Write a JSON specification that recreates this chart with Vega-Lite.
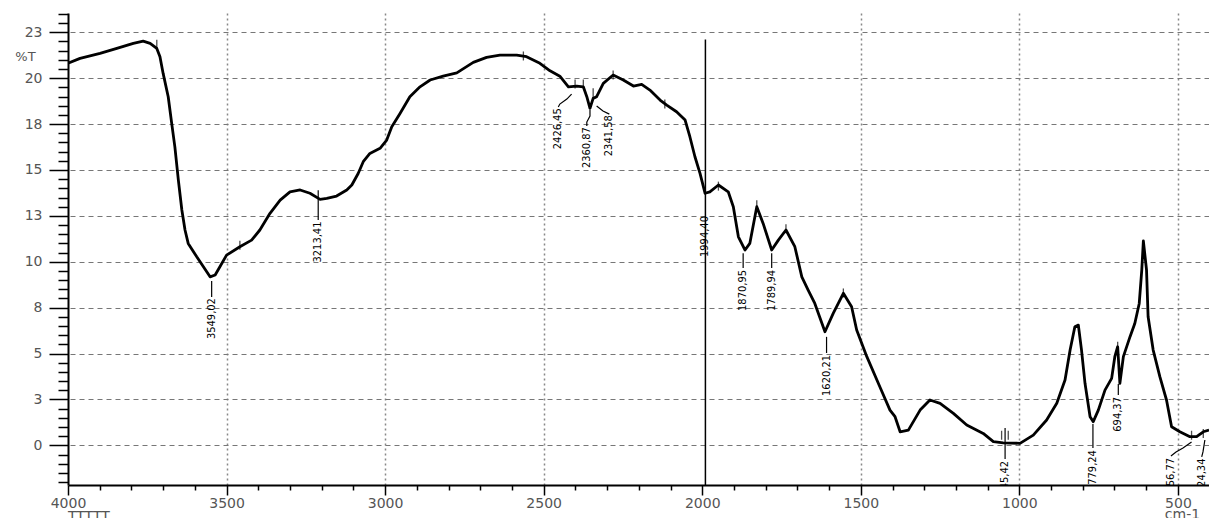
{
  "$schema": "https://vega.github.io/schema/vega-lite/v6.json",
  "width": 1141,
  "height": 472,
  "autosize": {"type": "none"},
  "padding": {"left": 68, "top": 13, "right": 0, "bottom": 33},
  "background": "white",
  "config": {"view": {"stroke": null}},
  "title": {"text": "TTTTT", "orient": "bottom", "anchor": "start", "frame": "group", "offset": -11, "baseline": "top", "font": "DejaVu Sans", "fontSize": 14, "fontWeight": "normal", "color": "#555"},
  "layer": [
    {
      "data": {"values": [{"w": 1990, "t": 22.1, "t2": -2.16}]},
      "mark": {"type": "rule", "color": "black", "strokeWidth": 1.5},
      "encoding": {
        "x": {"field": "w", "type": "quantitative", "scale": {"domain": [402, 4000], "reverse": true, "nice": false, "zero": false}},
        "y": {"field": "t", "type": "quantitative", "scale": {"domain": [-2.16, 23.55], "nice": false, "zero": false}},
        "y2": {"field": "t2"}
      }
    },
    {
      "data": {"values": [
        {"w":4000,"t":20.81},{"w":3962,"t":21.08},{"w":3899,"t":21.35},{"w":3846,"t":21.62},{"w":3794,"t":21.90},{"w":3763,"t":22.02},{"w":3741,"t":21.90},{"w":3720,"t":21.62},{"w":3710,"t":21.17},{"w":3700,"t":20.26},{"w":3684,"t":18.99},{"w":3673,"t":17.54},{"w":3663,"t":16.26},{"w":3652,"t":14.45},{"w":3641,"t":12.82},{"w":3631,"t":11.73},{"w":3621,"t":11.00},{"w":3594,"t":10.27},{"w":3573,"t":9.73},{"w":3552,"t":9.18},{"w":3536,"t":9.28},{"w":3521,"t":9.73},{"w":3500,"t":10.36},{"w":3458,"t":10.82},{"w":3421,"t":11.18},{"w":3395,"t":11.73},{"w":3363,"t":12.64},{"w":3331,"t":13.36},{"w":3300,"t":13.81},{"w":3268,"t":13.91},{"w":3237,"t":13.73},{"w":3205,"t":13.40},{"w":3184,"t":13.45},{"w":3153,"t":13.58},{"w":3121,"t":13.91},{"w":3105,"t":14.18},{"w":3085,"t":14.81},{"w":3069,"t":15.45},{"w":3048,"t":15.90},{"w":3016,"t":16.18},{"w":2995,"t":16.63},{"w":2979,"t":17.35},{"w":2953,"t":18.08},{"w":2922,"t":18.99},{"w":2890,"t":19.53},{"w":2858,"t":19.90},{"w":2817,"t":20.11},{"w":2774,"t":20.29},{"w":2722,"t":20.86},{"w":2680,"t":21.13},{"w":2638,"t":21.26},{"w":2585,"t":21.26},{"w":2554,"t":21.17},{"w":2512,"t":20.81},{"w":2480,"t":20.40},{"w":2449,"t":20.11},{"w":2422,"t":19.53},{"w":2396,"t":19.57},{"w":2375,"t":19.53},{"w":2364,"t":18.99},{"w":2354,"t":18.36},{"w":2344,"t":18.90},{"w":2333,"t":18.99},{"w":2312,"t":19.72},{"w":2281,"t":20.17},{"w":2249,"t":19.90},{"w":2217,"t":19.57},{"w":2191,"t":19.66},{"w":2165,"t":19.35},{"w":2133,"t":18.81},{"w":2112,"t":18.53},{"w":2081,"t":18.17},{"w":2054,"t":17.72},{"w":2039,"t":16.81},{"w":2023,"t":15.72},{"w":2007,"t":14.81},{"w":1991,"t":13.73},{"w":1976,"t":13.81},{"w":1949,"t":14.18},{"w":1918,"t":13.81},{"w":1902,"t":13.0},{"w":1886,"t":11.36},{"w":1865,"t":10.64},{"w":1850,"t":11.0},{"w":1828,"t":13.0},{"w":1808,"t":12.09},{"w":1781,"t":10.64},{"w":1760,"t":11.18},{"w":1736,"t":11.73},{"w":1708,"t":10.82},{"w":1686,"t":9.18},{"w":1666,"t":8.46},{"w":1645,"t":7.73},{"w":1613,"t":6.19},{"w":1587,"t":7.19},{"w":1555,"t":8.28},{"w":1529,"t":7.55},{"w":1513,"t":6.28},{"w":1481,"t":4.83},{"w":1440,"t":3.19},{"w":1408,"t":1.92},{"w":1392,"t":1.56},{"w":1376,"t":0.74},{"w":1350,"t":0.83},{"w":1313,"t":1.92},{"w":1282,"t":2.47},{"w":1250,"t":2.29},{"w":1208,"t":1.74},{"w":1166,"t":1.11},{"w":1114,"t":0.65},{"w":1082,"t":0.20},{"w":1051,"t":0.14},{"w":998,"t":0.11},{"w":956,"t":0.56},{"w":914,"t":1.38},{"w":882,"t":2.29},{"w":856,"t":3.56},{"w":840,"t":5.19},{"w":825,"t":6.46},{"w":814,"t":6.55},{"w":804,"t":5.19},{"w":793,"t":3.38},{"w":777,"t":1.56},{"w":767,"t":1.29},{"w":751,"t":1.92},{"w":730,"t":3.01},{"w":709,"t":3.65},{"w":699,"t":4.83},{"w":690,"t":5.37},{"w":683,"t":3.38},{"w":672,"t":4.83},{"w":651,"t":5.92},{"w":636,"t":6.64},{"w":622,"t":7.73},{"w":614,"t":9.55},{"w":609,"t":11.13},{"w":599,"t":9.55},{"w":594,"t":7.0},{"w":578,"t":5.19},{"w":557,"t":3.74},{"w":536,"t":2.47},{"w":520,"t":1.01},{"w":494,"t":0.74},{"w":462,"t":0.47},{"w":441,"t":0.47},{"w":420,"t":0.74},{"w":402,"t":0.83}
      ]},
      "mark": {"type": "line", "color": "black", "strokeWidth": 2.8, "strokeJoin": "round", "clip": true},
      "encoding": {
        "x": {"field": "w", "type": "quantitative", "sort": null,
          "scale": {"domain": [402, 4000], "reverse": true, "nice": false, "zero": false},
          "axis": {
            "orient": "bottom",
            "values": [500,600,700,800,900,1000,1100,1200,1300,1400,1500,1600,1700,1800,1900,2000,2100,2200,2300,2400,2500,2600,2700,2800,2900,3000,3100,3200,3300,3400,3500,3600,3700,3800,3900,4000],
            "tickCount": 500,
            "format": "d",
            "labelExpr": "datum.value % 500 === 0 ? datum.label : ''",
            "labelOverlap": false,
            "labelFlush": false,
            "labelFont": "DejaVu Sans",
            "labelFontSize": 14,
            "labelColor": "#555",
            "labelPadding": 1,
            "tickSize": {"condition": {"test": "datum.value % 500 === 0", "value": 10}, "value": 5},
            "tickColor": "black",
            "tickWidth": 1.5,
            "domainColor": "black",
            "domainWidth": 2,
            "grid": true,
            "gridColor": "#888",
            "gridDash": [2, 3],
            "gridWidth": 1.5,
            "gridOpacity": {"condition": {"test": "datum.value % 500 === 0 && datum.value !== 2000 && datum.value !== 4000", "value": 1}, "value": 0},
            "title": "cm-1",
            "titleX": 1114,
            "titleY": 22,
            "titleBaseline": "top",
            "titleAlign": "center",
            "titleAnchor": null,
            "titleFont": "DejaVu Sans",
            "titleFontSize": 14,
            "titleFontWeight": "normal",
            "titleColor": "#555"
          }},
        "y": {"field": "t", "type": "quantitative",
          "scale": {"domain": [-2.16, 23.55], "nice": false, "zero": false},
          "axis": {
            "orient": "left",
            "values": [-2,-1.5,-1,-0.5,0,0.5,1,1.5,2,2.5,3,3.5,4,4.5,5,5.5,6,6.5,7,7.5,8,8.5,9,9.5,10,10.5,11,11.5,12,12.5,13,13.5,14,14.5,15,15.5,16,16.5,17,17.5,18,18.5,19,19.5,20,20.5,21,21.5,22,22.5,23,23.5],
            "tickCount": 500,
            "labelExpr": "datum.value % 2.5 === 0 ? '' + round(datum.value) : ''",
            "labelOverlap": false,
            "labelFlush": false,
            "labelFont": "DejaVu Sans",
            "labelFontSize": 14,
            "labelColor": "#555",
            "labelPadding": 7,
            "labelBaseline": "middle",
            "tickSize": {"condition": {"test": "datum.value % 2.5 === 0", "value": 19}, "value": 10},
            "tickColor": "black",
            "tickWidth": 1.5,
            "domainColor": "black",
            "domainWidth": 2,
            "grid": true,
            "gridColor": "#777",
            "gridDash": [5, 4],
            "gridWidth": 1,
            "gridOpacity": {"condition": {"test": "datum.value % 2.5 === 0", "value": 1}, "value": 0},
            "title": "%T",
            "titleAngle": 0,
            "titleX": -43,
            "titleY": 43,
            "titleAlign": "center",
            "titleBaseline": "middle",
            "titleAnchor": null,
            "titleFont": "DejaVu Sans",
            "titleFontSize": 13,
            "titleFontWeight": "normal",
            "titleColor": "#555"
          }}
      }
    },
    {
      "data": {"values": [
        {"w":3720,"t":21.85},{"w":3458,"t":10.9},{"w":2564,"t":21.21},{"w":2401,"t":19.68},{"w":2375,"t":19.68},{"w":2344,"t":19.2},{"w":2281,"t":20.17},{"w":2118,"t":18.59},{"w":1949,"t":14.12},{"w":1828,"t":13.1},{"w":1736,"t":11.8},{"w":1555,"t":8.3},{"w":1056,"t":0.55},{"w":1035,"t":0.55},{"w":690,"t":5.4},{"w":457,"t":0.55},{"w":420,"t":0.65}
      ]},
      "mark": {"type": "tick", "orient": "vertical", "color": "black", "size": 9, "thickness": 1.3},
      "encoding": {
        "x": {"field": "w", "type": "quantitative", "scale": {"domain": [402, 4000], "reverse": true, "nice": false, "zero": false}},
        "y": {"field": "t", "type": "quantitative", "scale": {"domain": [-2.16, 23.55], "nice": false, "zero": false}}
      }
    },
    {
      "data": {"values": [
        {"id":"a","o":1,"w":3547,"t":8.95},{"id":"a","o":2,"w":3547,"t":8.08},
        {"id":"b","o":1,"w":3211,"t":13.9},{"id":"b","o":2,"w":3211,"t":12.27},
        {"id":"c","o":1,"w":2412,"t":19.13},{"id":"c","o":2,"w":2427,"t":18.86},{"id":"c","o":3,"w":2449,"t":18.59},{"id":"c","o":4,"w":2454,"t":18.43},
        {"id":"d","o":1,"w":2354,"t":18.27},{"id":"d","o":2,"w":2354,"t":17.94},{"id":"d","o":3,"w":2364,"t":17.61},{"id":"d","o":4,"w":2364,"t":17.39},
        {"id":"e","o":1,"w":2333,"t":18.48},{"id":"e","o":2,"w":2313,"t":18.21},{"id":"e","o":3,"w":2293,"t":18.04},
        {"id":"f","o":1,"w":1871,"t":10.46},{"id":"f","o":2,"w":1871,"t":9.66},
        {"id":"g","o":1,"w":1781,"t":10.46},{"id":"g","o":2,"w":1781,"t":9.66},
        {"id":"h","o":1,"w":1608,"t":5.91},{"id":"h","o":2,"w":1608,"t":5.03},
        {"id":"i","o":1,"w":1045,"t":0.94},{"id":"i","o":2,"w":1045,"t":-0.75},
        {"id":"j","o":1,"w":768,"t":1.16},{"id":"j","o":2,"w":768,"t":-0.15},
        {"id":"k","o":1,"w":688,"t":3.34},{"id":"k","o":2,"w":688,"t":2.74},
        {"id":"l","o":1,"w":457,"t":0.18},{"id":"l","o":2,"w":484,"t":-0.15},{"id":"l","o":3,"w":506,"t":-0.36},{"id":"l","o":4,"w":522,"t":-0.58},
        {"id":"m","o":1,"w":415,"t":0.29},{"id":"m","o":2,"w":421,"t":-0.36},{"id":"m","o":3,"w":425,"t":-0.63}
      ]},
      "mark": {"type": "line", "color": "black", "strokeWidth": 1.2, "clip": true},
      "encoding": {
        "x": {"field": "w", "type": "quantitative", "scale": {"domain": [402, 4000], "reverse": true, "nice": false, "zero": false}},
        "y": {"field": "t", "type": "quantitative", "scale": {"domain": [-2.16, 23.55], "nice": false, "zero": false}},
        "detail": {"field": "id"},
        "order": {"field": "o", "type": "quantitative"}
      }
    },
    {
      "data": {"values": [
        {"label":"3549,02","w":3547,"t":8.02},
        {"label":"3213,41","w":3211,"t":12.19},
        {"label":"2426,45","w":2454,"t":18.36},
        {"label":"2360,87","w":2364,"t":17.33},
        {"label":"2341,58","w":2293,"t":17.98},
        {"label":"1994,40","w":1990,"t":12.49},
        {"label":"1870,95","w":1871,"t":9.55},
        {"label":"1789,94","w":1781,"t":9.55},
        {"label":"1620,21","w":1608,"t":4.92},
        {"label":"1045,42","w":1045,"t":-0.85},
        {"label":"779,24","w":768,"t":-0.26},
        {"label":"694,37","w":688,"t":2.63},
        {"label":"456,77","w":522,"t":-0.69},
        {"label":"424,34","w":425,"t":-0.72}
      ]},
      "mark": {"type": "text", "angle": 270, "align": "right", "baseline": "middle", "font": "DejaVu Sans Condensed", "fontSize": 11, "color": "black", "clip": true},
      "encoding": {
        "x": {"field": "w", "type": "quantitative", "scale": {"domain": [402, 4000], "reverse": true, "nice": false, "zero": false}},
        "y": {"field": "t", "type": "quantitative", "scale": {"domain": [-2.16, 23.55], "nice": false, "zero": false}},
        "text": {"field": "label"}
      }
    }
  ]
}
